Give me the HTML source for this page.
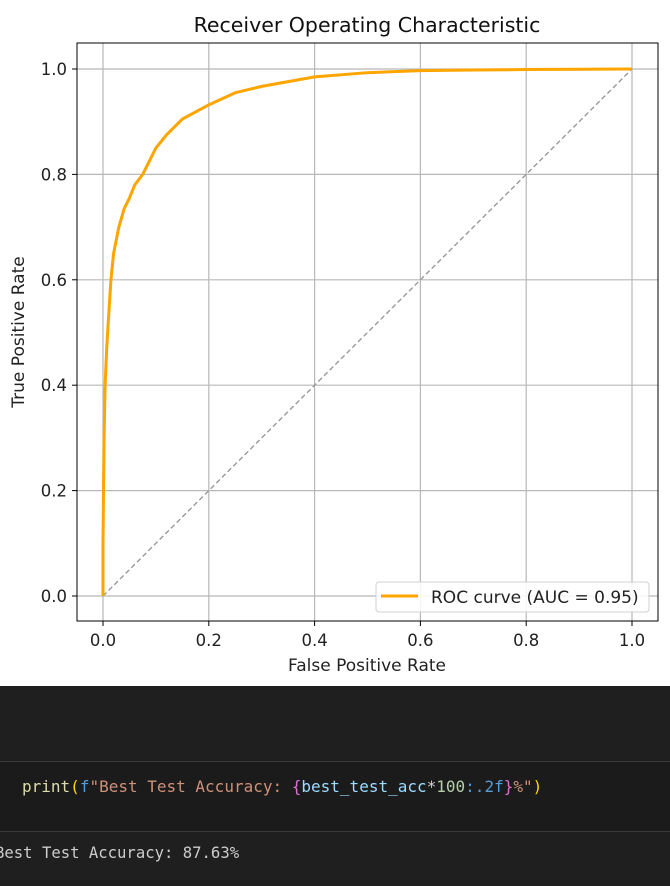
<!DOCTYPE html>
<html><head><meta charset="utf-8"><style>
body{margin:0;width:670px;height:886px;overflow:hidden;background:#1f1f1f;font-family:"DejaVu Sans","Liberation Sans",sans-serif}
#chart{position:absolute;left:0;top:0;width:670px;height:686px;background:#fff}
.mono{font-family:"DejaVu Sans Mono","Liberation Mono",monospace;font-size:16px;position:absolute;white-space:pre}
</style></head><body>
<svg id="chart" width="670" height="686" xmlns="http://www.w3.org/2000/svg"></svg>
<div style="position:absolute;left:0;top:761px;width:670px;height:1px;background:#3a3a3a"></div>
<div style="position:absolute;left:0;top:762px;width:670px;height:69px;background:#1b1b1b"></div>
<div style="position:absolute;left:0;top:831px;width:670px;height:1px;background:#3a3a3a"></div>
<div class="mono" style="left:22px;top:777px"><span style="color:#dcdcaa">print</span><span style="color:#ffd700">(</span><span style="color:#569cd6">f</span><span style="color:#ce9178">"Best Test Accuracy: </span><span style="color:#da70d6">{</span><span style="color:#9cdcfe">best_test_acc</span><span style="color:#d4d4d4">*</span><span style="color:#b5cea8">100</span><span style="color:#569cd6">:.2f</span><span style="color:#da70d6">}</span><span style="color:#ce9178">%"</span><span style="color:#ffd700">)</span></div>
<div class="mono" style="left:-5px;top:844px;color:#cccccc;font-size:15.6px">Best Test Accuracy: 87.63%</div>
<script>
const fpr=[0,0,0.002,0.004,0.007,0.01,0.015,0.02,0.03,0.04,0.05,0.06,0.075,0.09,0.1,0.12,0.15,0.2,0.25,0.3,0.4,0.5,0.6,0.7,0.8,0.9,1];
const tpr=[0,0.1,0.3,0.4,0.47,0.52,0.6,0.65,0.7,0.735,0.755,0.78,0.8,0.83,0.85,0.875,0.905,0.932,0.955,0.967,0.985,0.993,0.997,0.998,0.999,0.9995,1];
const ticks=[0,0.2,0.4,0.6,0.8,1.0];
const tickLabels=["0.0","0.2","0.4","0.6","0.8","1.0"];
const NS="http://www.w3.org/2000/svg",svg=document.getElementById('chart');
const X=v=>103+v*529, Y=v=>596-v*527;
function mk(t,a,txt){const e=document.createElementNS(NS,t);for(const k in a)e.setAttribute(k,a[k]);if(txt!=null)e.textContent=txt;svg.appendChild(e);return e;}
ticks.forEach((t,i)=>{
 let g=mk('line',{x1:X(t),x2:X(t),y1:43,y2:621,stroke:'#b8b8b8','stroke-width':1.2});
 
 g=mk('line',{x1:77,x2:658,y1:Y(t),y2:Y(t),stroke:'#b8b8b8','stroke-width':1.2});
 
 mk('line',{x1:X(t),x2:X(t),y1:621,y2:626,stroke:'#000'});
 mk('line',{x1:72,x2:77,y1:Y(t),y2:Y(t),stroke:'#000'});
 let l=mk('text',{x:X(t),y:646,'font-size':16.5,'text-anchor':'middle',fill:'#222'},tickLabels[i]);
 
 l=mk('text',{x:67,y:Y(t)+6,'font-size':16.5,'text-anchor':'end',fill:'#222'},tickLabels[i]);
 
});
let d=mk('line',{x1:X(0),y1:Y(0),x2:X(1),y2:Y(1),stroke:'#999','stroke-width':1.4,'stroke-dasharray':'5,3'});

let p=mk('polyline',{points:fpr.map((f,i)=>X(f)+','+Y(tpr[i])).join(' '),fill:'none',stroke:'#ffa500','stroke-width':3,'stroke-linejoin':'round'});

let b=mk('rect',{x:77,y:43,width:581,height:578,fill:'none',stroke:'#000','stroke-width':1});

let t=mk('text',{x:367,y:32,'font-size':20.5,'text-anchor':'middle',fill:'#111'},'Receiver Operating Characteristic');

t=mk('text',{x:367,y:671,'font-size':17,'text-anchor':'middle',fill:'#222'},'False Positive Rate');

t=mk('text',{x:24,y:332,'font-size':17,'text-anchor':'middle',fill:'#222',transform:'rotate(-90 24 332)'},'True Positive Rate');

let lg=mk('rect',{x:376,y:582,width:273,height:30,rx:3,fill:'#fff','fill-opacity':0.85,stroke:'#d0d0d0'});

mk('line',{x1:381,x2:418,y1:596,y2:596,stroke:'#ffa500','stroke-width':3});
t=mk('text',{x:431,y:603,'font-size':17,fill:'#222'},'ROC curve (AUC = 0.95)');

</script>
</body></html>
